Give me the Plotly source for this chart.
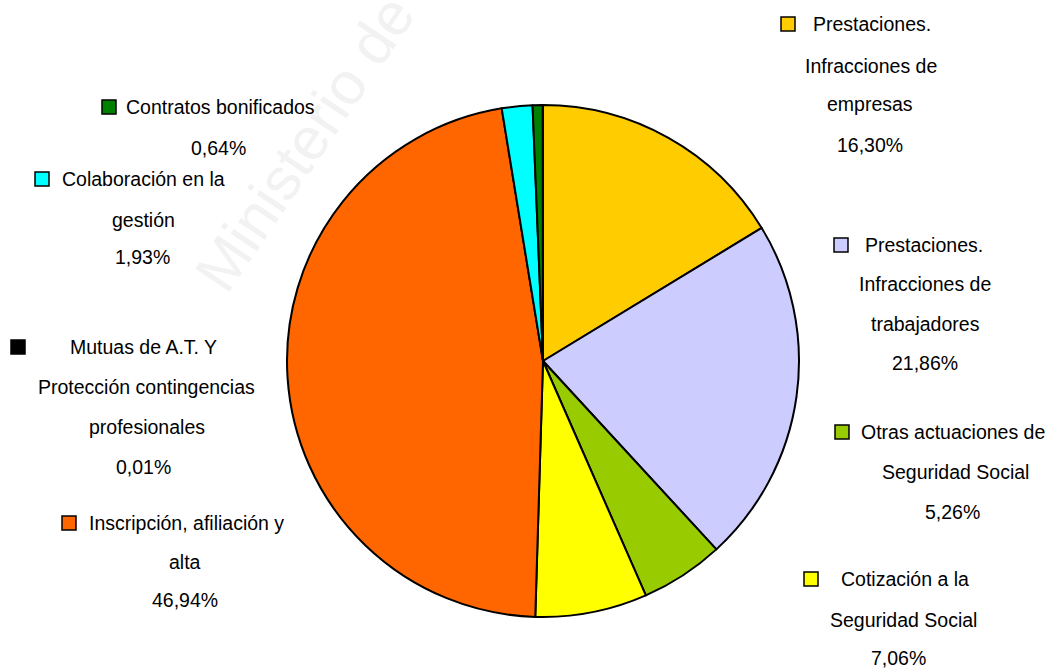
import plotly.graph_objects as go

# data, clockwise from 12 o'clock
categories = [
    "Prestaciones. Infracciones de empresas",
    "Prestaciones. Infracciones de trabajadores",
    "Otras actuaciones de Seguridad Social",
    "Cotización a la Seguridad Social",
    "Inscripción, afiliación y alta",
    "Colaboración en la gestión",
    "Contratos bonificados",
    "Mutuas de A.T. Y Protección contingencias profesionales",
]
values = [16.30, 21.86, 5.26, 7.06, 46.94, 1.93, 0.64, 0.01]
colors = ["#FFCC00", "#CCCCFF", "#99CC00", "#FFFF00", "#FF6600", "#00FFFF", "#008000", "#000000"]
label_lines = [
    ["Prestaciones.", "Infracciones de", "empresas"],
    ["Prestaciones.", "Infracciones de", "trabajadores"],
    ["Otras actuaciones de", "Seguridad Social"],
    ["Cotización a la", "Seguridad Social"],
    ["Inscripción, afiliación y", "alta"],
    ["Colaboración en la", "gestión"],
    ["Contratos bonificados"],
    ["Mutuas de A.T. Y", "Protección contingencias", "profesionales"],
]

W, H = 1059, 669
FONT = "Liberation Sans, Arial"

# label layout in pixels: key square centre, then (x centre, y centre) of each line
label_pos = [
    ((788, 24), [(872, 24), (871, 66), (870, 104), (870, 145)]),
    ((841, 245), [(924, 245), (925, 284), (925, 324), (925, 363)]),
    ((842, 432), [(953, 432), (955, 472), (952, 512)]),
    ((811, 579), [(905, 579), (903, 620), (898, 658)]),
    ((69, 523), [(186, 523), (185, 562), (185, 600)]),
    ((42, 179), [(143, 179), (143, 220), (142, 257)]),
    ((109, 107), [(220, 107), (218, 148)]),
    ((18, 347), [(143, 347), (146, 387), (147, 427), (143, 467)]),
]


def px(x, y):
    return x / W, 1 - y / H


cx, cy, r = 543, 361, 256
fig = go.Figure(go.Pie(
    labels=categories,
    values=values,
    sort=False,
    direction="clockwise",
    rotation=0,
    textinfo="none",
    marker=dict(colors=colors, line=dict(color="black", width=2)),
    domain=dict(x=[(cx - r) / W, (cx + r) / W], y=[1 - (cy + r) / H, 1 - (cy - r) / H]),
    showlegend=False,
))

annotations = []
shapes = []

# faint watermark, kept below the pie
wx0, wy0 = px(200, 40)
wx1, wy1 = px(400, 240)
shapes.append(dict(
    type="rect", xref="paper", yref="paper", x0=wx0, x1=wx1, y0=wy1, y1=wy0,
    layer="below", line=dict(width=0), fillcolor="rgba(0,0,0,0)",
    label=dict(text="Ministerio de", textangle=-56, textposition="middle center",
               font=dict(family="Liberation Sans, Arial", size=60, color="#F2F2F2")),
))

for lines, val, col, (sq, pos) in zip(label_lines, values, colors, label_pos):
    texts = lines + [f"{val:.2f}".replace(".", ",") + "%"]
    for t, (x, y) in zip(texts, pos):
        ax, ay = px(x, y)
        annotations.append(dict(
            x=ax, y=ay, xref="paper", yref="paper", text=t, showarrow=False,
            xanchor="center", yanchor="middle",
            font=dict(family=FONT, size=19.5, color="black"),
        ))
    x0, y0 = px(sq[0] - 7, sq[1] - 7)
    x1, y1 = px(sq[0] + 7, sq[1] + 7)
    shapes.append(dict(
        type="rect", xref="paper", yref="paper", x0=x0, x1=x1, y0=y1, y1=y0,
        fillcolor=col, line=dict(color="black", width=1.5),
    ))

fig.update_layout(
    width=W,
    height=H,
    autosize=False,
    margin=dict(l=0, r=0, t=0, b=0),
    paper_bgcolor="white",
    plot_bgcolor="white",
    annotations=annotations,
    shapes=shapes,
)

# drop the default page margin so the figure fills the window exactly
fig.write_html(
    "out.html",
    config={"displayModeBar": False},
    post_script="document.body.style.margin='0';",
)
